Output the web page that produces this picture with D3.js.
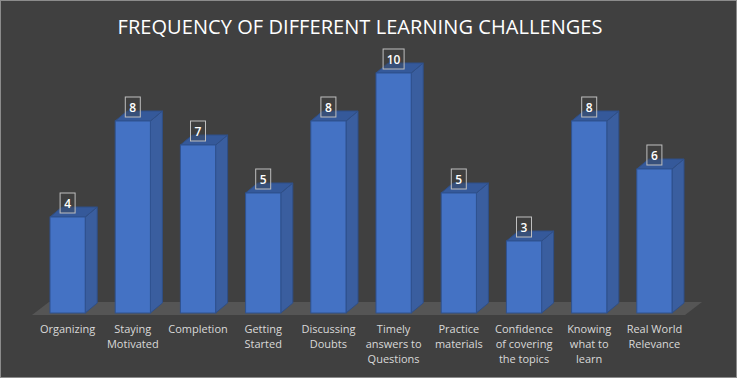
<!DOCTYPE html>
<html>
<head>
<meta charset="utf-8">
<script src="https://cdn.jsdelivr.net/npm/d3@7"></script>
<style>
  body { margin: 0; background: #404040; }
  svg { display: block; }
</style>
</head>
<body>
<svg id="chart" width="737" height="378"></svg>
<script>
// chart data
var categories = ["Organizing", "Staying Motivated", "Completion", "Getting Started", "Discussing Doubts",
    "Timely answers to Questions", "Practice materials", "Confidence of covering the topics",
    "Knowing what to learn", "Real World Relevance"]
var values = [4, 8, 7, 5, 8, 10, 5, 3, 8, 6]
// how the axis labels wrap
var tickLabels = [
    ["Organizing"],
    ["Staying", "Motivated"],
    ["Completion"],
    ["Getting", "Started"],
    ["Discussing", "Doubts"],
    ["Timely", "answers to", "Questions"],
    ["Practice", "materials"],
    ["Confidence", "of covering", "the topics"],
    ["Knowing", "what to", "learn"],
    ["Real World", "Relevance"]
]
var title = "FREQUENCY OF DIFFERENT LEARNING CHALLENGES"

var svg = d3.select("#chart")
var W = 737, H = 378
var base = 313
var dx = 12, dy = -10

svg.append("rect")
    .attr("x", 0.5).attr("y", 0.5)
    .attr("width", W - 1).attr("height", H - 1)
    .attr("fill", "#404040")
    .attr("stroke", "#8c8c8c")

svg.append("text")
    .attr("x", 360).attr("y", 34)
    .attr("text-anchor", "middle")
    .attr("fill", "#ffffff")
    .attr("font-family", "Open Sans")
    .attr("font-size", 20)
    .attr("textLength", 485)
    .text(title)

var xScale = d3.scaleBand().domain(categories).range([35, 687])
    .paddingInner(0.46).paddingOuter(0.23)
var yScale = d3.scaleLinear().domain([0, 10]).range([base, 73])

// floor
var fx0 = xScale.range()[0] - 3, fx1 = xScale.range()[1] - 2
svg.append("polygon")
    .attr("points", [[fx0, base + 2], [fx0 + 17, base - 11], [fx1 + 17, base - 11], [fx1, base + 2]].join(" "))
    .attr("fill", "#555555")

var bw = xScale.bandwidth()
var bars = svg.selectAll(".bar")
    .data(values)
    .enter().append("g")
    .attr("class", "bar")

bars.append("polygon")
    .attr("points", function(d, i) {
        var x1 = xScale(categories[i]) + bw, y0 = yScale(d)
        return [[x1, y0], [x1 + dx, y0 + dy], [x1 + dx, base + dy], [x1, base]].join(" ")
    })
    .attr("fill", "#3a5e9f")
    .attr("stroke", "#2f4f86")
    .attr("stroke-width", 1)

bars.append("polygon")
    .attr("points", function(d, i) {
        var x0 = xScale(categories[i]), y0 = yScale(d)
        return [[x0, y0], [x0 + dx, y0 + dy], [x0 + bw + dx, y0 + dy], [x0 + bw, y0]].join(" ")
    })
    .attr("fill", "#35599a")
    .attr("stroke", "#2f4f86")
    .attr("stroke-width", 1)

bars.append("rect")
    .attr("x", function(d, i) { return xScale(categories[i]) })
    .attr("y", function(d) { return yScale(d) })
    .attr("width", bw)
    .attr("height", function(d) { return base - yScale(d) })
    .attr("fill", "#4472c4")
    .attr("stroke", "#2f528f")
    .attr("stroke-width", 1)

// value boxes
bars.each(function(d, i) {
    var g = d3.select(this)
    var cx = xScale(categories[i]) + bw / 2
    var y0 = yScale(d)
    var w = String(d).length > 1 ? 21 : 15
    g.append("rect")
        .attr("x", cx - w / 2).attr("y", y0 - 24)
        .attr("width", w).attr("height", 20)
        .attr("fill", "#404040").attr("fill-opacity", 0.35)
        .attr("stroke", "#bfbfbf")
    g.append("text")
        .attr("x", cx).attr("y", y0 - 9.5)
        .attr("text-anchor", "middle")
        .attr("fill", "#ffffff")
        .attr("font-family", "Open Sans")
        .attr("font-size", 12)
        .attr("font-weight", 600)
        .text(d)
})

// category axis
var axis = svg.append("g")
    .attr("transform", "translate(" + 0 + "," + base + ")")
    .call(d3.axisBottom(xScale).tickSize(0).tickFormat(""))
axis.select(".domain").remove()
axis.selectAll(".tick text").remove()
axis.selectAll(".tick").each(function(c) {
    var i = categories.indexOf(c)
    var t = d3.select(this).append("text")
        .attr("text-anchor", "middle")
        .attr("fill", "#d9d9d9")
        .attr("font-family", "Open Sans")
        .attr("font-size", 11)
    tickLabels[i].forEach(function(line, k) {
        t.append("tspan").attr("x", 0).attr("y", 20 + k * 15).text(line)
    })
})
</script>
</body>
</html>
